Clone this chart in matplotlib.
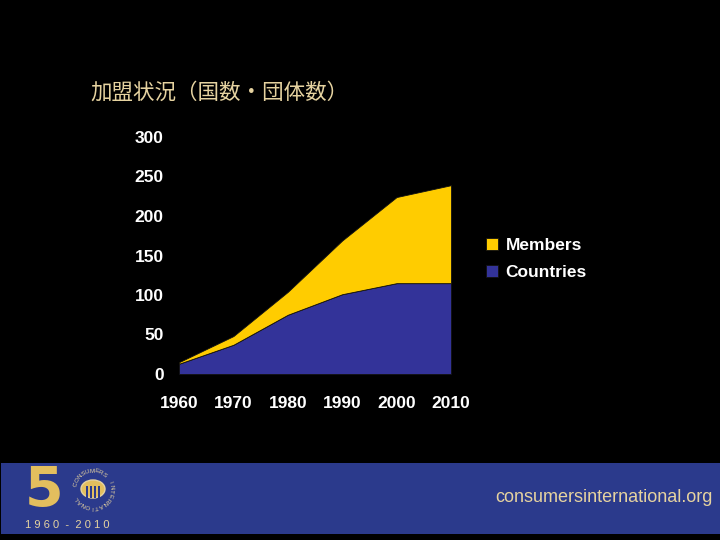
import numpy as np
import matplotlib.pyplot as plt
from matplotlib.patches import Rectangle, Circle

# data
years = [1960, 1970, 1980, 1990, 2000, 2010]
countries = [13, 37, 75, 101, 115, 115]
members = [2, 11, 29, 68, 109, 124]
year_labels = ['1960', '1970', '1980', '1990', '2000', '2010']
y_ticks = [0, 50, 100, 150, 200, 250, 300]
series_names = ['Countries', 'Members']

yellow = '#FFCC00'
blue = '#333399'
tan = '#E6D3A0'

plt.rcParams['font.family'] = ['Liberation Sans', 'Noto Sans CJK JP', 'DejaVu Sans']

fig = plt.figure(figsize=(7.2, 5.4), dpi=100, facecolor='black')

ax = fig.add_axes([179 / 720, 1 - 374 / 540, 272 / 720, 237 / 540])
ax.set_facecolor('black')
ax.stackplot(years, countries, members, colors=[blue, yellow],
             labels=series_names, edgecolor='#111111', linewidth=0.6)
ax.set_xlim(1960, 2010)
ax.set_ylim(0, 300)
ax.set_xticks(years)
ax.set_xticklabels(year_labels)
ax.set_yticks(y_ticks)
for s in ax.spines.values():
    s.set_visible(False)
ax.tick_params(axis='both', length=0, colors='white', labelsize=12.5)
ax.tick_params(axis='y', pad=11)
ax.tick_params(axis='x', pad=16)
for lbl in ax.get_xticklabels() + ax.get_yticklabels():
    lbl.set_fontweight('bold')

# legend (members on top)
handles, labels = ax.get_legend_handles_labels()
leg = fig.legend(handles[::-1], labels[::-1], loc='upper left',
                 bbox_to_anchor=(470 / 720, 1 - 222 / 540), frameon=False,
                 handlelength=0.7, handleheight=0.7, handletextpad=0.45,
                 labelspacing=0.7, prop={'weight': 'bold', 'size': 12.5})
for t in leg.get_texts():
    t.set_color('white')

# title
fig.text(90 / 720, 1 - 93 / 540, '加盟状況（国数・団体数）', color=tan,
         fontsize=15.5, family=['Noto Sans CJK JP', 'DejaVu Sans'],
         va='center', ha='left')

# bottom banner
fig.patches.append(Rectangle((1 / 720, 1 - 534 / 540), 719 / 720, 71 / 540,
                             transform=fig.transFigure, facecolor='#2B3A8C',
                             edgecolor='none'))
fig.text(713 / 720, 1 - 498 / 540, 'consumersinternational.org', color=tan,
         fontsize=13, ha='right', va='center')

# logo: big 5, ring of letters around a globe, years
fig.text(25 / 720, 1 - 506 / 540, '5', color='#E3BE5E', fontsize=40,
         fontweight='bold', family='DejaVu Sans', ha='left', va='baseline')
cx, cy, r = 93, 489, 12
globe = Circle((cx / 720, 1 - cy / 540), r / 720, transform=fig.transFigure,
               facecolor='#E3BE5E', edgecolor=tan, linewidth=1.0)
fig.patches.append(globe)
for dx in [-6, -2, 2, 6]:
    fig.patches.append(Rectangle(((cx + dx - 0.7) / 720, 1 - (cy + 9) / 540),
                                 1.4 / 720, 12 / 540, transform=fig.transFigure,
                                 facecolor='#2B3A8C', edgecolor='none'))
ring = 'CONSUMERS INTERNATIONAL'
angles = np.linspace(165, -150, len(ring))
for ch, a in zip(ring, angles):
    ra = np.deg2rad(a)
    x = cx + (r + 6) * np.cos(ra)
    y = cy - (r + 6) * np.sin(ra)
    fig.text(x / 720, 1 - y / 540, ch, color=tan, fontsize=4.5,
             rotation=a - 90, ha='center', va='center')
fig.text(25 / 720, 1 - 525 / 540, '1 9 6 0  -  2 0 1 0', color=tan,
         fontsize=8, ha='left', va='center')

fig.savefig('out.png', dpi=100, facecolor='black')
